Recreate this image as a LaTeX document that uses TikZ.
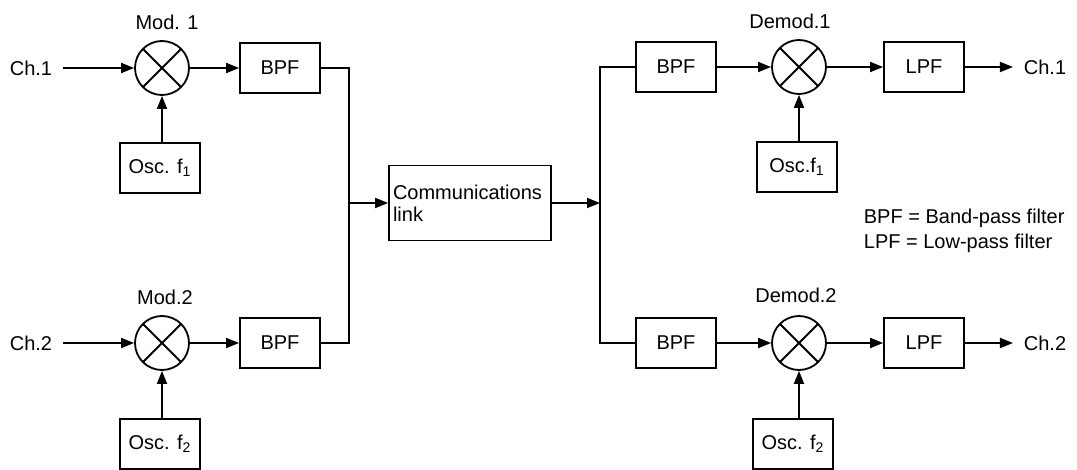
\documentclass[tikz,border=0pt]{standalone}
\usepackage{fontspec}
\setmainfont{Liberation Sans}
\usetikzlibrary{arrows.meta}

\tikzset{
	blk/.style={draw, minimum width=40pt, minimum height=25pt, inner sep=1pt},
	mixer/.style={draw, circle, minimum size=27pt, inner sep=0pt,
		path picture={\draw (path picture bounding box.north west) -- (path picture bounding box.south east)
			(path picture bounding box.north east) -- (path picture bounding box.south west);}},
	lbl/.style={inner sep=5pt},
	sig/.style={-{Triangle[length=6.5pt,width=5pt]}},
}

\begin{document}
\begin{tikzpicture}[x=0.5pt,y=-0.5pt,line width=0.9pt,font=\fontsize{10}{11}\selectfont]
	\useasboundingbox (0,0) rectangle (1077,470);
	% modulators
	\node[lbl] (ch1in) at (31,68) {Ch.1};
	\node[lbl] (ch2in) at (31,343) {Ch.2};
	\node[mixer] (mod1) at (162,68) {};
	\node[mixer] (mod2) at (162,343) {};
	\node (mod1lbl) at (167,22) {Mod. 1};
	\node (mod2lbl) at (165,297) {Mod.2};
	\node[blk] (osc1) at (160,168) {Osc. f\textsubscript{1}};
	\node[blk] (osc2) at (160,444) {Osc. f\textsubscript{2}};
	\node[blk] (bpf1) at (280,68) {BPF};
	\node[blk] (bpf2) at (280,343) {BPF};
	\draw[sig] (ch1in) -- (mod1);
	\draw[sig] (ch2in) -- (mod2);
	\draw[sig] (mod1 |- osc1.north) -- (mod1);
	\draw[sig] (mod2 |- osc2.north) -- (mod2);
	\draw[sig] (mod1) -- (bpf1);
	\draw[sig] (mod2) -- (bpf2);
	% link
	\node[draw, minimum width=81pt, minimum height=37.5pt, text width=77pt, align=left, inner sep=2pt]
		(link) at (470,203) {Communications\\link};
	\coordinate (jl) at (349,203);
	\coordinate (jr) at (600,203);
	\draw (bpf1.east) -| (jl);
	\draw (bpf2.east) -| (jl);
	\draw[sig] (jl) -- (link);
	\draw[sig] (link) -- (jr);
	% demodulators
	\node[blk] (bpf3) at (676,67) {BPF};
	\node[blk] (bpf4) at (676,343) {BPF};
	\node[mixer] (dem1) at (799,67) {};
	\node[mixer] (dem2) at (799,343) {};
	\node (dem1lbl) at (790,21) {Demod.1};
	\node (dem2lbl) at (796,295) {Demod.2};
	\node[blk] (osc3) at (797,167) {Osc.f\textsubscript{1}};
	\node[blk] (osc4) at (793,444) {Osc. f\textsubscript{2}};
	\node[blk] (lpf1) at (924,67) {LPF};
	\node[blk] (lpf2) at (924,343) {LPF};
	\node[lbl] (ch1out) at (1045,67) {Ch.1};
	\node[lbl] (ch2out) at (1045,343) {Ch.2};
	\draw (jr) |- (bpf3.west);
	\draw (jr) |- (bpf4.west);
	\draw[sig] (bpf3) -- (dem1);
	\draw[sig] (bpf4) -- (dem2);
	\draw[sig] (dem1 |- osc3.north) -- (dem1);
	\draw[sig] (dem2 |- osc4.north) -- (dem2);
	\draw[sig] (dem1) -- (lpf1);
	\draw[sig] (dem2) -- (lpf2);
	\draw[sig] (lpf1) -- (ch1out);
	\draw[sig] (lpf2) -- (ch2out);
	\node[anchor=west, inner sep=0pt] (key1) at (863,218) {BPF = Band-pass filter};
	\node[anchor=west, inner sep=0pt] (key2) at (863,243) {LPF = Low-pass filter};
\end{tikzpicture}
\end{document}
